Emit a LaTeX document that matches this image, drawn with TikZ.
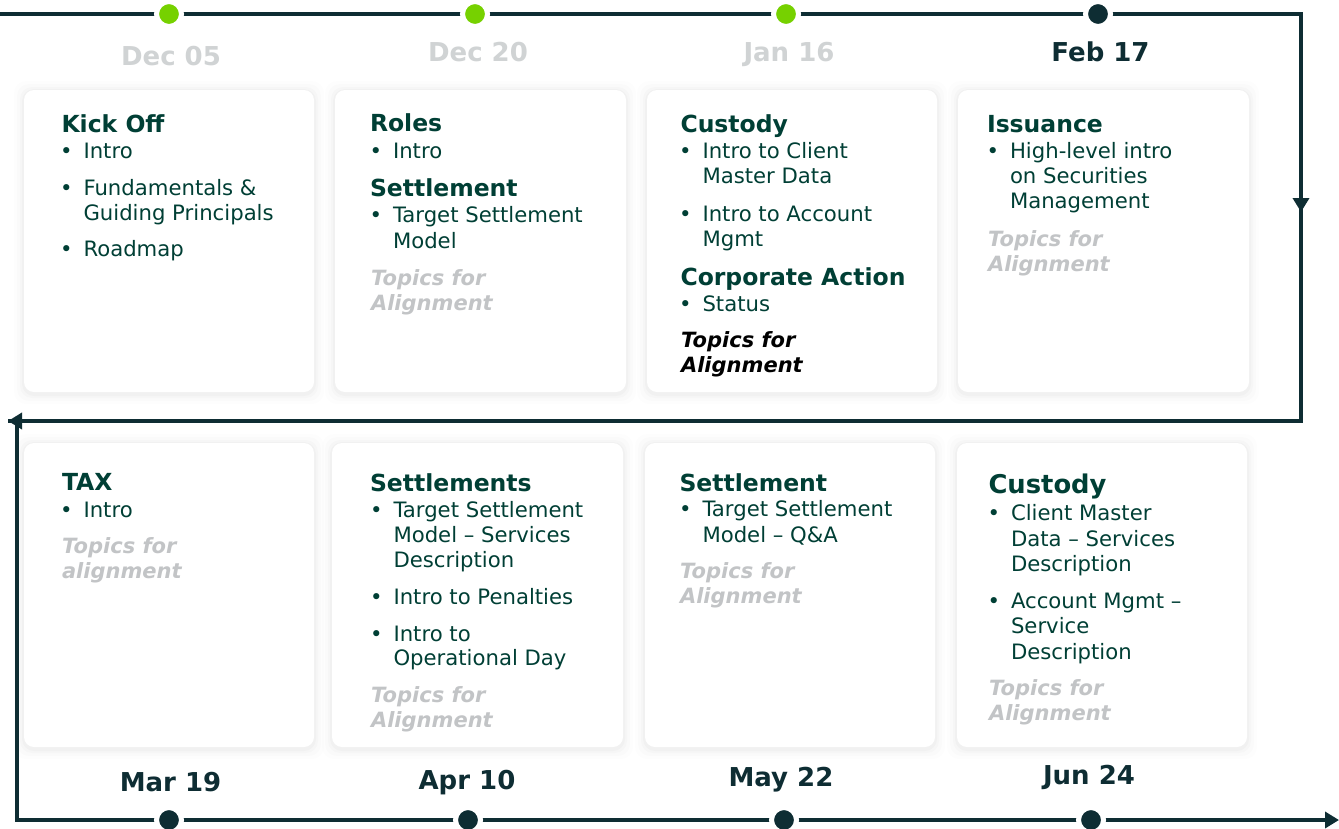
\documentclass[tikz,border=0pt]{standalone}
\usepackage{fontspec}
\setmainfont{DejaVu Sans}
\usetikzlibrary{arrows.meta,fit}
\definecolor{ink}{HTML}{0E2D33}
\definecolor{txt}{HTML}{003F35}
\definecolor{lime}{HTML}{76D100}
\definecolor{gdate}{HTML}{D0D3D4}
\definecolor{gtopic}{HTML}{C2C4C6}
\tikzset{
  card/.style={fill=white, rounded corners=10pt, draw=none, inner sep=0pt},
  ttl/.style={anchor=base west, inner sep=0pt, outer sep=0pt, text=txt, font=\fontsize{23.5}{28}\selectfont\bfseries},
  bigttl/.style={ttl, font=\fontsize{25.8}{30}\selectfont\bfseries},
  itm/.style={anchor=base west, inner sep=0pt, outer sep=0pt, text=txt, font=\fontsize{21.2}{25}\selectfont},
  bult/.style={itm},
  tpc/.style={anchor=base west, inner sep=0pt, outer sep=0pt, text=gtopic, font=\fontsize{21}{25}\selectfont\bfseries\itshape},
  tpcdark/.style={tpc, text=black},
  dte/.style={anchor=base, inner sep=0pt, outer sep=0pt, text=ink, font=\fontsize{26}{30}\selectfont\bfseries},
  dtegray/.style={dte, text=gdate},
  tline/.style={draw=ink, line width=3.5pt},
  tip/.style={-{Triangle[length=14pt,width=16pt]}},
  gdot/.style={circle, fill=lime, draw=white, line width=5pt, minimum size=25pt, inner sep=0pt},
  ddot/.style={circle, fill=ink, draw=white, line width=5pt, minimum size=25pt, inner sep=0pt},
}
\newcommand{\cardbox}[5]{%
  \foreach \s/\o in {10/0.008,7/0.012,4/0.016,2/0.02}{%
    \fill[black,opacity=\o,rounded corners=12pt] ({#2-\s},{#3-\s+1}) rectangle ({#4+\s},{#5+\s+2});}
  \node[card,fit={(#2,#3) (#4,#5)}] (#1) {};}
\newcommand{\bitem}[4]{%
  \node[bult] (#1b) at ({#2-23.5},#3) {•};
  \node[itm] (#1) at (#2,#3) {#4};}
\begin{document}
\begin{tikzpicture}[x=1pt,y=-1pt]
\useasboundingbox (0,0) rectangle (1339,828);
\fill[white] (0,0) rectangle (1339,828);

% cards
\cardbox{c1}{24}{90}{314}{392}
\cardbox{c2}{335}{90}{626}{392}
\cardbox{c3}{647}{90}{937}{392}
\cardbox{c4}{958}{90}{1249}{392}
\cardbox{c5}{24}{443}{314}{747}
\cardbox{c6}{332}{443}{623}{747}
\cardbox{c7}{645}{443}{935}{747}
\cardbox{c8}{957}{443}{1247}{747}

% timeline
\coordinate (p0) at (0,14);
\coordinate (p1) at (1301,14);
\coordinate (p2) at (1301,421);
\coordinate (p3) at (8,421);
\coordinate (q0) at (17,421);
\coordinate (q1) at (17,820);
\coordinate (q2) at (1339,820);
\coordinate (m0) at (1301,190);
\coordinate (m1) at (1301,212);
\draw[tline] (p0) -- (p1) -- (p2) -- (p3);
\draw[tline,tip] (p2) -- (p3);
\draw[tline,tip] (m0) -- (m1);
\draw[tline,tip] (q0) -- (q1) -- (q2);

\node[gdot] (d1) at (169,14) {};
\node[gdot] (d2) at (475,14) {};
\node[gdot] (d3) at (786,14) {};
\node[ddot] (d4) at (1098,14) {};
\node[ddot] (d5) at (169,820) {};
\node[ddot] (d6) at (468,820) {};
\node[ddot] (d7) at (784,820) {};
\node[ddot] (d8) at (1091,820) {};

% dates
\node[dtegray] (t1) at (171,65) {Dec 05};
\node[dtegray] (t2) at (478,61) {Dec 20};
\node[dtegray] (t3) at (789,61) {Jan 16};
\node[dte] (t4) at (1100.5,61) {Feb 17};
\node[dte] (t5) at (170.5,791) {Mar 19};
\node[dte] (t6) at (467,789) {Apr 10};
\node[dte] (t7) at (781,786) {May 22};
\node[dte] (t8) at (1089,784) {Jun 24};

% card 1
\node[ttl] (a0) at (61.5,132) {Kick Off};
\bitem{a1}{83.5}{158}{Intro}
\bitem{a2}{83.5}{195}{Fundamentals \&}
\node[itm] (a3) at (83.5,220) {Guiding Principals};
\bitem{a4}{83.5}{256}{Roadmap}

% card 2
\node[ttl] (b0) at (370,131) {Roles};
\bitem{b1}{393}{158}{Intro}
\node[ttl] (b2) at (370,196) {Settlement};
\bitem{b3}{393}{222}{Target Settlement}
\node[itm] (b4) at (393,248) {Model};
\node[tpc] (b5) at (371,285) {Topics for};
\node[tpc] (b6) at (371,310) {Alignment};

% card 3
\node[ttl] (e0) at (680.5,132) {Custody};
\bitem{e1}{702.5}{158}{Intro to Client}
\node[itm] (e2) at (702.5,183) {Master Data};
\bitem{e3}{702.5}{221}{Intro to Account}
\node[itm] (e4) at (702.5,246) {Mgmt};
\node[ttl] (e5) at (680.5,285) {Corporate Action};
\bitem{e6}{702.5}{311}{Status}
\node[tpcdark] (e7) at (681,347) {Topics for};
\node[tpcdark] (e8) at (681,372) {Alignment};

% card 4
\node[ttl] (f0) at (987,132) {Issuance};
\bitem{f1}{1010}{158}{High-level intro}
\node[itm] (f2) at (1010,183) {on Securities};
\node[itm] (f3) at (1010,208) {Management};
\node[tpc] (f4) at (988,246) {Topics for};
\node[tpc] (f5) at (988,271) {Alignment};

% card 5
\node[ttl] (g0) at (62,490) {TAX};
\bitem{g1}{83.5}{517}{Intro}
\node[tpc] (g2) at (62,553) {Topics for};
\node[tpc] (g3) at (62,578) {alignment};

% card 6
\node[ttl] (h0) at (370,491) {Settlements};
\bitem{h1}{393.5}{517}{Target Settlement}
\node[itm] (h2) at (393.5,542) {Model – Services};
\node[itm] (h3) at (393.5,567) {Description};
\bitem{h4}{393.5}{604}{Intro to Penalties}
\bitem{h5}{393.5}{641}{Intro to}
\node[itm] (h6) at (393.5,665) {Operational Day};
\node[tpc] (h7) at (371,702) {Topics for};
\node[tpc] (h8) at (371,727) {Alignment};

% card 7
\node[ttl] (k0) at (679.5,491) {Settlement};
\bitem{k1}{702.5}{516}{Target Settlement}
\node[itm] (k2) at (702.5,542) {Model – Q\&A};
\node[tpc] (k3) at (680,578) {Topics for};
\node[tpc] (k4) at (680,603) {Alignment};

% card 8
\node[bigttl] (n0) at (988.5,493) {Custody};
\bitem{n1}{1011}{520}{Client Master}
\node[itm] (n2) at (1011,546) {Data – Services};
\node[itm] (n3) at (1011,571) {Description};
\bitem{n4}{1011}{608}{Account Mgmt –}
\node[itm] (n5) at (1011,633) {Service};
\node[itm] (n6) at (1011,659) {Description};
\node[tpc] (n7) at (989,695) {Topics for};
\node[tpc] (n8) at (989,720) {Alignment};
\end{tikzpicture}
\end{document}
